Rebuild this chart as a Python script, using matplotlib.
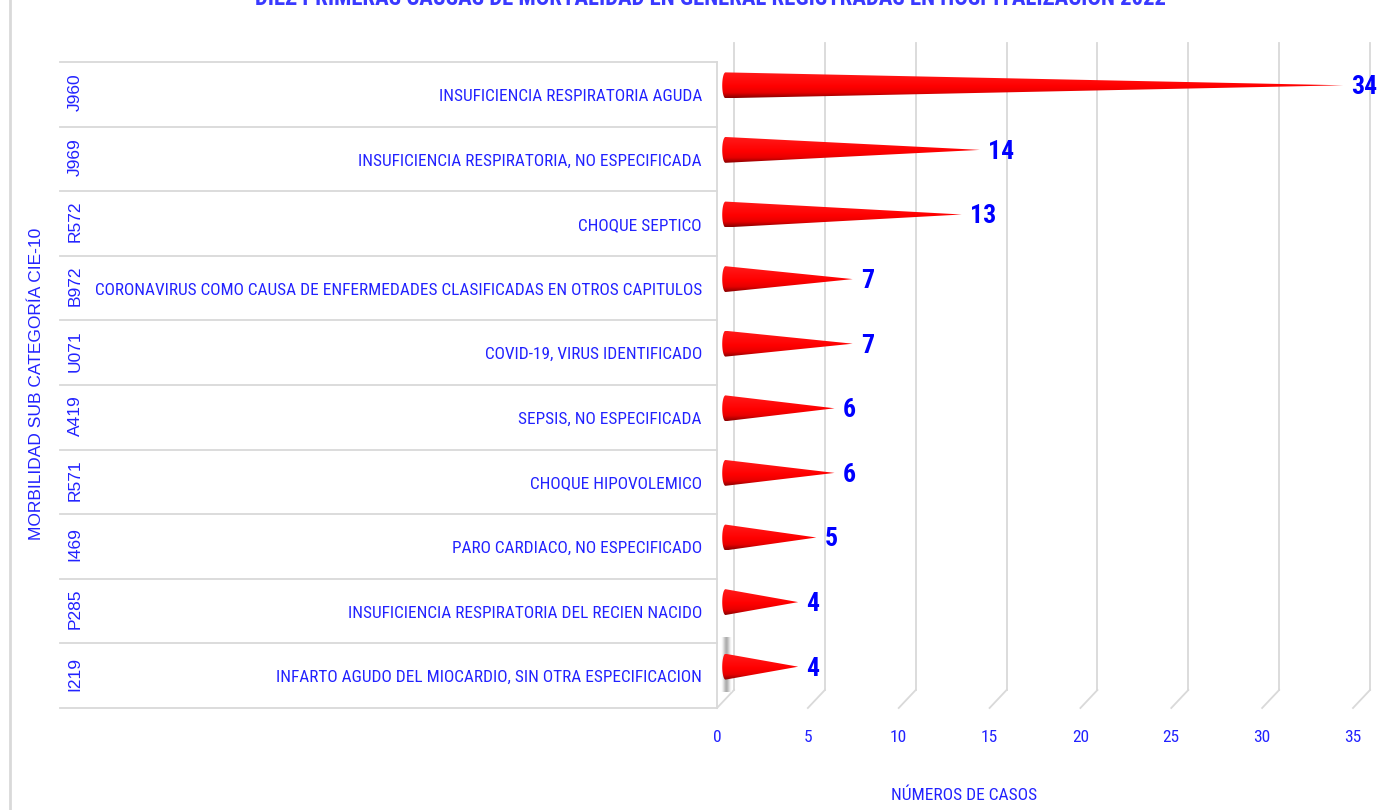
import numpy as np
import matplotlib
matplotlib.use("Agg")
import matplotlib.pyplot as plt
from matplotlib import font_manager as fm
from matplotlib.colors import LinearSegmentedColormap
from matplotlib.patches import Polygon
from matplotlib.lines import Line2D

# Datos
codigos = ["J960", "J969", "R572", "B972", "U071", "A419", "R571", "I469", "P285", "I219"]
causas = [
    "INSUFICIENCIA RESPIRATORIA AGUDA",
    "INSUFICIENCIA RESPIRATORIA, NO ESPECIFICADA",
    "CHOQUE SEPTICO",
    "CORONAVIRUS COMO CAUSA DE ENFERMEDADES CLASIFICADAS EN OTROS CAPITULOS",
    "COVID-19, VIRUS IDENTIFICADO",
    "SEPSIS, NO ESPECIFICADA",
    "CHOQUE HIPOVOLEMICO",
    "PARO CARDIACO, NO ESPECIFICADO",
    "INSUFICIENCIA RESPIRATORIA DEL RECIEN NACIDO",
    "INFARTO AGUDO DEL MIOCARDIO, SIN OTRA ESPECIFICACION",
]
casos = [34, 14, 13, 7, 7, 6, 6, 5, 4, 4]
ticks_x = [0, 5, 10, 15, 20, 25, 30, 35]

titulo = "DIEZ PRIMERAS CAUSAS DE MORTALIDAD EN GENERAL REGISTRADAS EN HOSPITALIZACION 2022"

# fuente estrecha si existe
nombres = {f.name for f in fm.fontManager.ttflist}
FUENTE = ["Liberation Sans", "DejaVu Sans"]
for cand in ["Roboto Condensed", "Liberation Sans Narrow", "Arial Narrow"]:
    if cand in nombres:
        FUENTE = [cand, "DejaVu Sans"]
        break
ANCHA = ["Liberation Sans", "DejaVu Sans"]

AZUL = "#2222ff"
GRIS = "#d9d9d9"

W, H = 1396, 810
fig = plt.figure(figsize=(W / 100, H / 100), dpi=100)

# ejes principales (plano frontal): x=0 en 717 px, x=35 en 1353 px
x0p, x1p, ytop, ybot = 717, 1353, 62, 708
ax = fig.add_axes([x0p / W, 1 - ybot / H, (x1p - x0p) / W, (ybot - ytop) / H])
n = len(casos)
for s in ax.spines.values():
    s.set_visible(False)
ax.set_yticks([])
ax.set_xticks(ticks_x)
ax.set_xticklabels([str(t) for t in ticks_x], family=FUENTE, fontsize=12.5, color=AZUL)
ax.tick_params(axis="x", length=0, pad=16)

# profundidad 3D
dx = 17 / ((x1p - x0p) / 35)
dy = 18 / ((ybot - ytop) / n)

# pared del fondo y piso
for t in ticks_x:
    ax.plot([t + dx, t + dx], [-0.5 - dy - 0.02, n - 0.5 - dy], color=GRIS, lw=1.3, clip_on=False, zorder=1)
    ax.plot([t + dx, t], [n - 0.5 - dy, n - 0.5], color=GRIS, lw=1.3, clip_on=False, zorder=1)
ax.plot([0, 0], [-0.5, n - 0.5], color=GRIS, lw=1.3, clip_on=False, zorder=1)

# sombra del ultimo cono sobre la pared lateral
sombra = np.array([[0.0, 0.3, 0.7, 1.0, 0.7, 0.3, 0.0]])
cm_sombra = LinearSegmentedColormap.from_list("s", ["#ffffff", "#6a6a6a"])
ax.imshow(sombra, cmap=cm_sombra, extent=[0.2, 0.8, n - 1 + 0.25, n - 1 - 0.6],
          aspect="auto", alpha=0.6, zorder=1.5, interpolation="bicubic")

# conos
cm_cono = LinearSegmentedColormap.from_list(
    "c", [(0, "#ff1a1a"), (0.55, "#ff0000"), (0.8, "#e60000"), (1, "#8a0000")])
grad = np.linspace(0, 1, 64).reshape(-1, 1)
xb = dx / 2
hh = 0.2
a = 0.18
t = np.linspace(0, np.pi, 30)
for i, v in enumerate(casos):
    yc = i - dy / 2
    arco = np.column_stack([xb - a * np.sin(t), yc - hh * np.cos(t)])
    verts = np.vstack([arco, [[v + xb, yc]]])
    poly = Polygon(verts, closed=True, facecolor="none", edgecolor="none", zorder=3)
    ax.add_patch(poly)
    im = ax.imshow(grad, cmap=cm_cono, extent=[xb - a, v + xb, yc + hh, yc - hh],
                   aspect="auto", zorder=3, interpolation="bilinear")
    im.set_clip_path(poly)
    ax.text(v + xb + 0.45, yc + 0.03, str(v), family=FUENTE, fontsize=18.5, fontweight="bold",
            color="#0000ff", ha="left", va="center", zorder=4)
ax.set_xlim(0, 35)
ax.set_ylim(n - 0.5, -0.5)

# tabla de categorias
tx0 = 60
axt = fig.add_axes([tx0 / W, 1 - ybot / H, (x0p - tx0) / W, (ybot - ytop) / H])
axt.set_xlim(0, x0p - tx0)
axt.set_ylim(n - 0.5, -0.5)
axt.axis("off")
for k in range(n + 1):
    axt.plot([0, x0p - tx0], [k - 0.5, k - 0.5], color=GRIS, lw=1.3, clip_on=False)
for i, (c, d) in enumerate(zip(codigos, causas)):
    axt.text(75 - tx0, i - 0.03, c, rotation=90, family=ANCHA, fontsize=12.5, color=AZUL,
             ha="center", va="center")
    axt.text(702 - tx0, i + 0.03, d, family=FUENTE, fontsize=12.4, color=AZUL,
             ha="right", va="center")

# borde izquierdo del area del grafico
fig.add_artist(Line2D([10 / W, 10 / W], [0, 1], color=GRIS, lw=2))

# titulos
fig.text(710 / W, 1 - 5 / H, titulo, family=FUENTE, fontsize=16.4, fontweight="bold",
         color="#3a3aff", ha="center", va="baseline")
fig.text(964 / W, 1 - 795 / H, "NÚMEROS DE CASOS", family=FUENTE, fontsize=12.5,
         color=AZUL, ha="center", va="center")
fig.text(37 / W, 1 - 384 / H, "MORBILIDAD SUB CATEGORÍA CIE-10", family=ANCHA,
         fontsize=12.5, color=AZUL, rotation=90, ha="center", va="center")

fig.savefig("out.png", dpi=100, facecolor="white")
